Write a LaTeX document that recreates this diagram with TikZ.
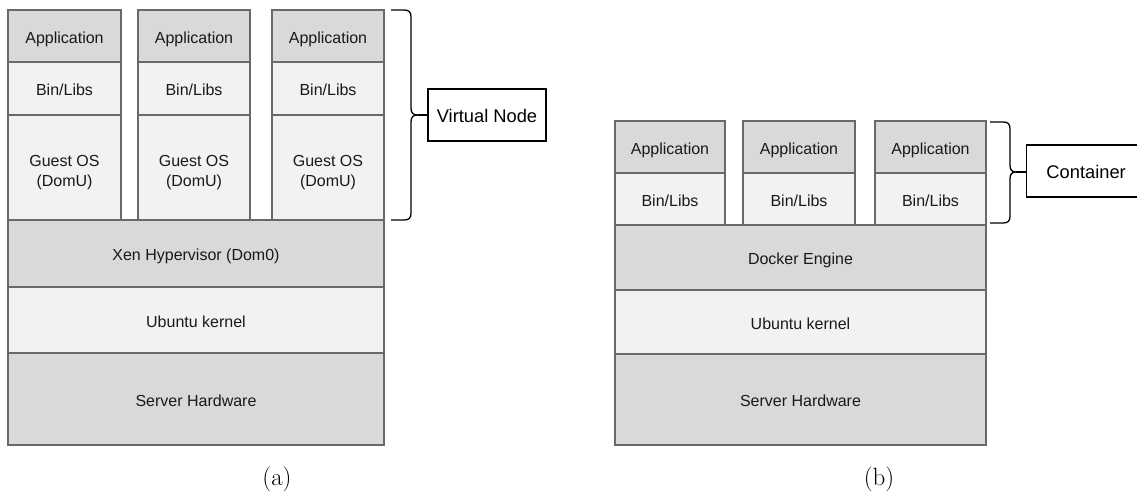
\documentclass[tikz,border=0pt]{standalone}
\usepackage{fontspec}
\newfontfamily\arialfont{Liberation Sans}
\definecolor{boxline}{RGB}{105,105,105}
\definecolor{darkfill}{RGB}{217,217,217}
\definecolor{lightfill}{RGB}{242,242,242}
\begin{document}
\begin{tikzpicture}[x=1pt,y=-1pt,
  layer/.style={draw=boxline, line width=2.4pt, inner sep=0pt, outer sep=0pt,
     font=\arialfont\fontsize{16}{20}\selectfont, text=black!90, align=center,
     text height=14.5pt, text depth=0pt},
  dark/.style={layer, fill=darkfill},
  light/.style={layer, fill=lightfill},
  twoline/.style={text height=37pt, text depth=0pt},
  labelbox/.style={draw=black, line width=1.3pt, fill=white, inner sep=0pt,
     font=\arialfont\fontsize{18.3}{22}\selectfont, text=black, text height=14.5pt, text depth=0pt},
  bracepath/.style={draw=black, line width=1.3pt},
  caption/.style={font=\fontsize{25}{30}\selectfont, inner sep=0pt}]
\useasboundingbox (0,0) rectangle (1137,493);
% ---------- (a) ----------
\node[dark, minimum width=376pt, minimum height=92pt] (srvA) at (196,399) {Server Hardware};
\node[light, minimum width=376pt, minimum height=66pt] (ubA) at (196,320) {Ubuntu kernel};
\node[dark, minimum width=376pt, minimum height=67pt] (xen) at (196,253.5) {Xen Hypervisor (Dom0)};
\foreach \i/\cx/\w in {1/64.5/113, 2/194/112, 3/328/112}{
  \node[light, twoline, minimum width=\w pt, minimum height=105pt] (g\i) at (\cx,167.5) {Guest OS\\(DomU)};
  \node[light, minimum width=\w pt, minimum height=53pt] (bA\i) at (\cx,88.5) {Bin/Libs};
  \node[dark, minimum width=\w pt, minimum height=52pt] (aA\i) at (\cx,36) {Application};
}
\node[labelbox, minimum width=118pt, minimum height=52pt] (vn) at (487,115) {Virtual Node};
\coordinate (vtip) at (418,115);
\draw[bracepath] (391,10) -- (404,10) .. controls (409,10) and (411,12) .. (411,17)
  -- (411,108) .. controls (411,113) and (413,115) .. (vtip)
  .. controls (413,115) and (411,117) .. (411,122)
  -- (411,213) .. controls (411,218) and (409,220) .. (404,220) -- (391,220);
\draw[bracepath] (vtip) -- (vn.west);
\node[caption] (capa) at (277,479) {(a)};
% ---------- (b) ----------
\node[dark, minimum width=371pt, minimum height=91pt] (srvB) at (800.5,399.5) {Server Hardware};
\node[light, minimum width=371pt, minimum height=64pt] (ubB) at (800.5,322) {Ubuntu kernel};
\node[dark, minimum width=371pt, minimum height=65pt] (dock) at (800.5,257.5) {Docker Engine};
\foreach \i/\cx/\w in {1/670/110, 2/799/112, 3/930.5/111}{
  \node[light, minimum width=\w pt, minimum height=52pt] (bB\i) at (\cx,199) {Bin/Libs};
  \node[dark, minimum width=\w pt, minimum height=52pt] (aB\i) at (\cx,147) {Application};
}
\node[labelbox, minimum width=119pt, minimum height=52pt, anchor=west] (cont) at (1026,171) {Container};
\coordinate (ctip) at (1016,172);
\draw[bracepath] (990,122) -- (1003,122) .. controls (1008,122) and (1010,124) .. (1010,129)
  -- (1010,165) .. controls (1010,170) and (1012,172) .. (ctip)
  .. controls (1012,172) and (1010,174) .. (1010,179)
  -- (1010,216) .. controls (1010,221) and (1008,223) .. (1003,223) -- (990,223);
\draw[bracepath] (ctip) -- (cont.west |- ctip);
\node[caption] (capb) at (879,479) {(b)};
\end{tikzpicture}
\end{document}
